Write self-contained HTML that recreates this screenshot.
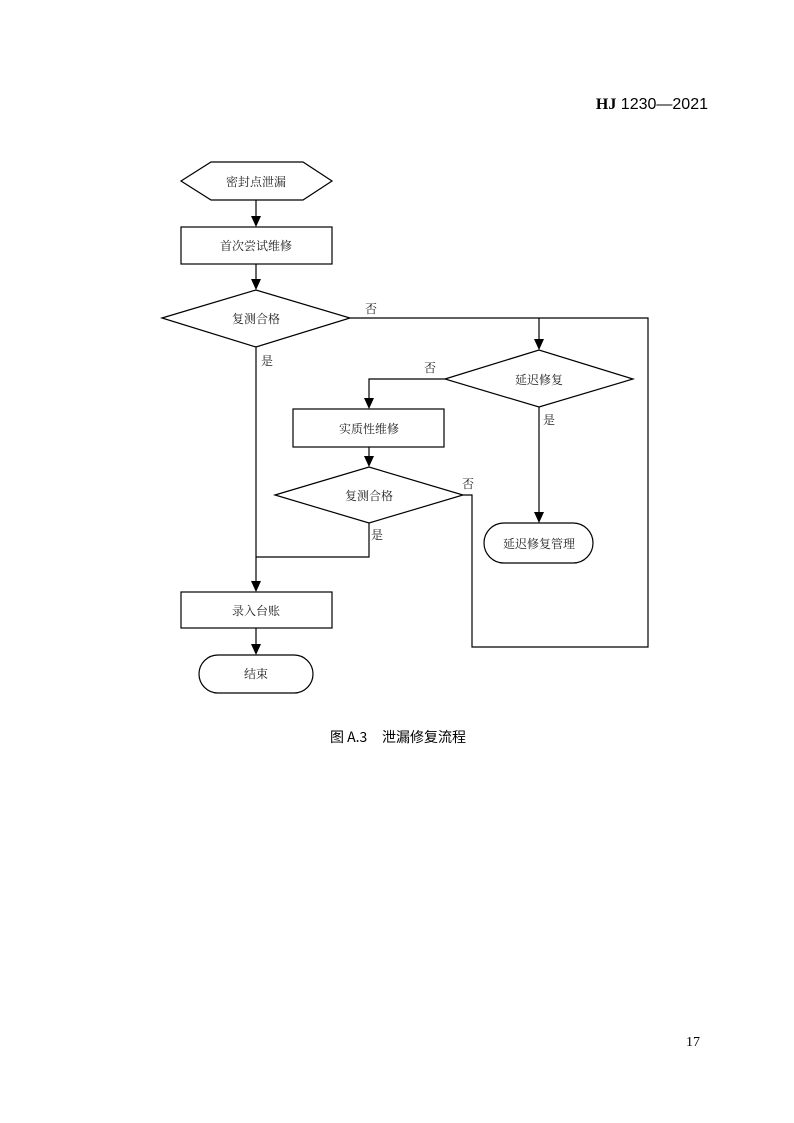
<!DOCTYPE html>
<html><head><meta charset="utf-8"><style>
html,body{margin:0;padding:0;background:#fff;}
svg{display:block;}
.n{font-family:"Liberation Serif","Noto Serif CJK SC","Noto Sans CJK SC",serif;font-size:12px;fill:#222;}
.c{font-family:"Noto Sans CJK SC","WenQuanYi Zen Hei",sans-serif;font-size:14px;fill:#000;}
</style></head><body>
<svg width="794" height="1123" viewBox="0 0 794 1123" xmlns="http://www.w3.org/2000/svg">
<text x="708" y="109" text-anchor="end" style="font-family:'Liberation Sans',sans-serif;font-size:16px;fill:#000"><tspan style="font-family:'Liberation Serif',serif;font-weight:bold">HJ</tspan> 1230—2021</text>
<g fill="none" stroke="#000" stroke-width="1.2">
<polygon points="181,181 211,162 303,162 332,181 303,200 211,200" fill="#fff"/>
<rect x="181" y="227" width="151" height="37"/>
<polygon points="162,318 256,290 350,318 256,347"/>
<polygon points="445,379 539,350 633,379 539,407"/>
<rect x="293" y="409" width="151" height="38"/>
<polygon points="275,495 369,467 463,495 369,523"/>
<rect x="181" y="592" width="151" height="36"/>
<rect x="484" y="523" width="109" height="40" rx="20"/>
<rect x="199" y="655" width="114" height="38" rx="19"/>
</g>
<g fill="none" stroke="#000" stroke-width="1.2">
<path d="M256,200 V225"/><path d="M256,264 V288"/>
<path d="M350,318 H648 V647 H472 V495 H463"/>
<path d="M539,318 V348"/>
<path d="M445,379 H369 V407"/>
<path d="M369,447 V465"/>
<path d="M539,407 V521"/>
<path d="M256,347 V590"/>
<path d="M369,523 V557 H256"/>
<path d="M256,628 V653"/>
</g>
<g fill="#000">
<path d="M251,216 L261,216 L256,227 Z"/>
<path d="M251,279 L261,279 L256,290 Z"/>
<path d="M534,339 L544,339 L539,350 Z"/>
<path d="M364,398 L374,398 L369,409 Z"/>
<path d="M364,456 L374,456 L369,467 Z"/>
<path d="M534,512 L544,512 L539,523 Z"/>
<path d="M251,581 L261,581 L256,592 Z"/>
<path d="M251,644 L261,644 L256,655 Z"/>
</g>
<g class="n" text-anchor="middle">
<text x="256" y="186">密封点泄漏</text>
<text x="256" y="250">首次尝试维修</text>
<text x="256" y="323">复测合格</text>
<text x="539" y="384">延迟修复</text>
<text x="369" y="433">实质性维修</text>
<text x="369" y="500">复测合格</text>
<text x="256" y="615">录入台账</text>
<text x="539" y="548">延迟修复管理</text>
<text x="256" y="678">结束</text>
<text x="371" y="313">否</text>
<text x="267" y="365">是</text>
<text x="430" y="372">否</text>
<text x="549" y="424">是</text>
<text x="468" y="488">否</text>
<text x="377" y="539">是</text>
</g>
<text class="c" x="330" y="742">图 A.3</text>
<text class="c" x="382" y="742">泄漏修复流程</text>
<text x="686" y="1046" style="font-family:'Liberation Serif',serif;font-size:14px;fill:#000">17</text>
</svg>
</body></html>
